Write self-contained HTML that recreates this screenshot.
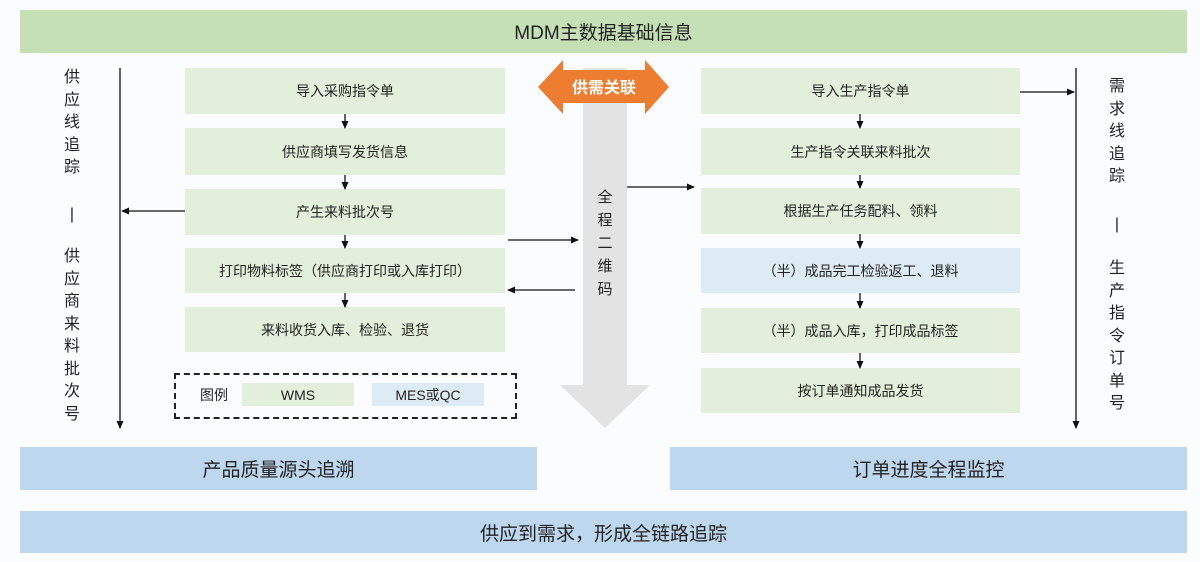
<!DOCTYPE html>
<html><head><meta charset="utf-8"><style>
body{margin:0;width:1200px;height:562px;background:#fbfcfd;position:relative;overflow:hidden;font-family:"Liberation Sans","Noto Sans CJK SC",sans-serif;color:#222}
.b{position:absolute;display:flex;align-items:center;justify-content:center;font-size:14px}
.g{background:#e2efda}.bl{background:#ddebf7}
.big{background:#bdd7ee;font-size:19px}
.vt{position:absolute;font-size:16px;line-height:22.5px;width:24px;text-align:center}
</style></head><body>
<div class="b" style="left:20px;top:10px;width:1167px;height:43px;background:#c5e0b4;font-size:19px">MDM主数据基础信息</div>

<div class="b g" style="left:185px;top:68px;width:320px;height:46px">导入采购指令单</div>
<div class="b g" style="left:185px;top:128px;width:320px;height:47px">供应商填写发货信息</div>
<div class="b g" style="left:185px;top:189px;width:320px;height:46px">产生来料批次号</div>
<div class="b g" style="left:185px;top:248px;width:320px;height:45px">打印物料标签（供应商打印或入库打印）</div>
<div class="b g" style="left:185px;top:307px;width:320px;height:45px">来料收货入库、检验、退货</div>

<div class="b g" style="left:701px;top:68px;width:319px;height:46px">导入生产指令单</div>
<div class="b g" style="left:701px;top:128px;width:319px;height:47px">生产指令关联来料批次</div>
<div class="b g" style="left:701px;top:188px;width:319px;height:46px">根据生产任务配料、领料</div>
<div class="b bl" style="left:701px;top:248px;width:319px;height:45px">（半）成品完工检验返工、退料</div>
<div class="b g" style="left:701px;top:308px;width:319px;height:45px">（半）成品入库，打印成品标签</div>
<div class="b g" style="left:701px;top:368px;width:319px;height:45px">按订单通知成品发货</div>

<div style="position:absolute;left:174px;top:373px;width:339px;height:42px;border:2px dashed #222"></div>
<div class="b" style="left:196px;top:383px;width:36px;height:23px">图例</div>
<div class="b g" style="left:242px;top:383px;width:112px;height:23px">WMS</div>
<div class="b bl" style="left:372px;top:383px;width:112px;height:23px">MES或QC</div>

<div class="b big" style="left:20px;top:447px;width:517px;height:43px">产品质量源头追溯</div>
<div class="b big" style="left:670px;top:447px;width:517px;height:43px">订单进度全程监控</div>
<div class="b big" style="left:20px;top:511px;width:1167px;height:42px">供应到需求，形成全链路追踪</div>

<svg width="1200" height="562" style="position:absolute;left:0;top:0">
<defs><marker id="a" markerWidth="8" markerHeight="8" refX="7" refY="4" orient="auto" markerUnits="userSpaceOnUse"><path d="M0,0.5L8,4L0,7.5z" fill="#111"/></marker></defs>
<polygon points="583,68 627,68 627,385 650,385 605,428 560,385 583,385" fill="#e3e3e3"/>
<polygon points="538,87 563,60 563,70 645,70 645,60 669,87 645,114 645,103 563,103 563,114" fill="#ed7d31"/>
<text x="604" y="93" font-size="16" fill="#fff" text-anchor="middle" font-weight="bold" font-family="Liberation Sans,Noto Sans CJK SC,sans-serif">供需关联</text>
<g stroke="#111" stroke-width="1.3" fill="none">
<line x1="120" y1="68" x2="120" y2="428" marker-end="url(#a)"/>
<line x1="1076" y1="68" x2="1076" y2="428" marker-end="url(#a)"/>
<line x1="185" y1="211" x2="122" y2="211" marker-end="url(#a)"/>
<line x1="1020" y1="92" x2="1074" y2="92" marker-end="url(#a)"/>
<line x1="508" y1="240" x2="578" y2="240" marker-end="url(#a)"/>
<line x1="575" y1="290" x2="508" y2="290" marker-end="url(#a)"/>
<line x1="627" y1="187" x2="694" y2="187" marker-end="url(#a)"/>
<line x1="345" y1="114" x2="345" y2="128" marker-end="url(#a)"/>
<line x1="345" y1="175" x2="345" y2="189" marker-end="url(#a)"/>
<line x1="345" y1="235" x2="345" y2="248" marker-end="url(#a)"/>
<line x1="345" y1="293" x2="345" y2="307" marker-end="url(#a)"/>
<line x1="860" y1="114" x2="860" y2="128" marker-end="url(#a)"/>
<line x1="860" y1="175" x2="860" y2="188" marker-end="url(#a)"/>
<line x1="860" y1="234" x2="860" y2="248" marker-end="url(#a)"/>
<line x1="860" y1="293" x2="860" y2="308" marker-end="url(#a)"/>
<line x1="860" y1="353" x2="860" y2="368" marker-end="url(#a)"/>
</g>
</svg>
<div class="vt" style="left:593px;top:186px;font-size:15px;line-height:23px">全<br>程<br>二<br>维<br>码</div>
<div class="vt" style="left:60px;top:67px">供<br>应<br>线<br>追<br>踪</div>
<div class="vt" style="left:60px;top:204px">|</div>
<div class="vt" style="left:60px;top:246px">供<br>应<br>商<br>来<br>料<br>批<br>次<br>号</div>
<div class="vt" style="left:1105px;top:76px">需<br>求<br>线<br>追<br>踪</div>
<div class="vt" style="left:1105px;top:214px">|</div>
<div class="vt" style="left:1105px;top:258px">生<br>产<br>指<br>令<br>订<br>单<br>号</div>
</body></html>
